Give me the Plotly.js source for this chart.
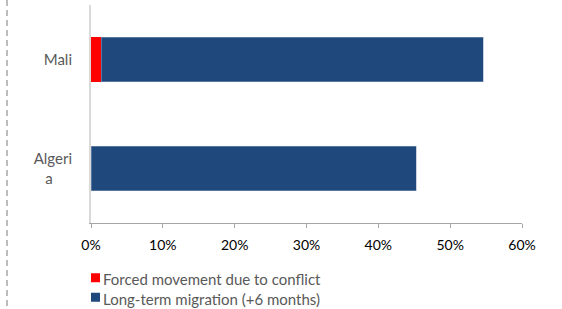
<!DOCTYPE html>
<html>
<head>
<meta charset="utf-8">
<script src="https://cdn.plot.ly/plotly-3.0.1.min.js"></script>
<style>html,body{margin:0;padding:0;background:#fff;}#chart{width:562px;height:309px;}</style>
</head>
<body>
<div id="chart"></div>
<script>
// Data (values in %)
var categories = ['Algeria', 'Mali'];
var categoryLabels = ['Algeri<br>a\u00a0\u00a0\u00a0\u00a0\u00a0', 'Mali'];
var forcedMovement = [0, 1.4];
var longTermMigration = [45.3, 53.2];
var seriesNames = ['Forced movement due to conflict', 'Long-term migration (+6 months)'];
var seriesColors = ['#ff0000', '#1f497c'];
var xTickVals = [0, 10, 20, 30, 40, 50, 60];
var xTickText = ['0%', '10%', '20%', '30%', '40%', '50%', '60%'];

var fontFam = 'Lato, "Open Sans", sans-serif';
var traces = [
  {type: 'bar', orientation: 'h', name: seriesNames[0], y: categories, x: forcedMovement,
   marker: {color: seriesColors[0]}, width: 0.41, hoverinfo: 'x+name'},
  {type: 'bar', orientation: 'h', name: seriesNames[1], y: categories, x: longTermMigration,
   marker: {color: seriesColors[1], line: {color: '#8fa5c4', width: 0.5}}, width: 0.41, hoverinfo: 'x+name'}
];

// Legend drawn below the plot: swatches + one two-line label block
var plotTop = 5, plotBottom = 223, plotLeft = 91, plotRight = 522;
function py(px) { return (plotBottom - px) / (plotBottom - plotTop); }
function pxx(px) { return (px - plotLeft) / (plotRight - plotLeft); }
var legendFont = 15;
var lineH = legendFont * 1.3;
var legendCenter = 288.5;
var shapes = [{type: 'line', xref: 'paper', yref: 'paper', x0: pxx(7), x1: pxx(7), y0: py(0), y1: py(309),
               line: {color: '#a6a6a6', width: 1.5, dash: '6px,4px'}}];
for (var i = 0; i < seriesNames.length; i++) {
  var cy = legendCenter + (i - 0.5) * lineH - 1;
  shapes.push({type: 'rect', xref: 'paper', yref: 'paper', x0: pxx(91), x1: pxx(100),
               y0: py(cy - 4.5), y1: py(cy + 4.5), fillcolor: seriesColors[i], line: {width: 0}});
}
var annotations = [{xref: 'paper', yref: 'paper', x: pxx(102), y: py(legendCenter), xanchor: 'left', yanchor: 'middle',
                    align: 'left', text: seriesNames.join('<br>'), showarrow: false, borderpad: 0,
                    font: {family: fontFam, size: legendFont, color: '#595959'}}];

var layout = {
  width: 562, height: 309,
  margin: {l: plotLeft, r: 562 - plotRight, t: plotTop, b: 309 - plotBottom},
  paper_bgcolor: '#fff', plot_bgcolor: '#fff',
  barmode: 'stack',
  font: {family: fontFam, size: 14, color: '#000'},
  xaxis: {range: [0, 60], tickvals: xTickVals, ticktext: xTickText, showgrid: false, zeroline: false,
          showline: true, linecolor: '#a6a6a6', linewidth: 1, ticks: 'outside', ticklen: 4,
          tickcolor: '#a6a6a6', ticklabelstandoff: 5, tickfont: {family: fontFam, size: 14, color: '#000'}, fixedrange: true},
  yaxis: {type: 'category', categoryorder: 'array', categoryarray: categories,
          tickvals: categories, ticktext: categoryLabels, range: [-0.5, 1.5],
          showgrid: false, zeroline: false, showline: true, linecolor: '#d9d9d9', linewidth: 2,
          ticks: '', ticklabelstandoff: 14, tickfont: {family: fontFam, size: 15, color: '#595959'}, fixedrange: true},
  showlegend: false,
  shapes: shapes,
  annotations: annotations
};
Plotly.newPlot('chart', traces, layout, {displayModeBar: false, staticPlot: true});
</script>
</body>
</html>
